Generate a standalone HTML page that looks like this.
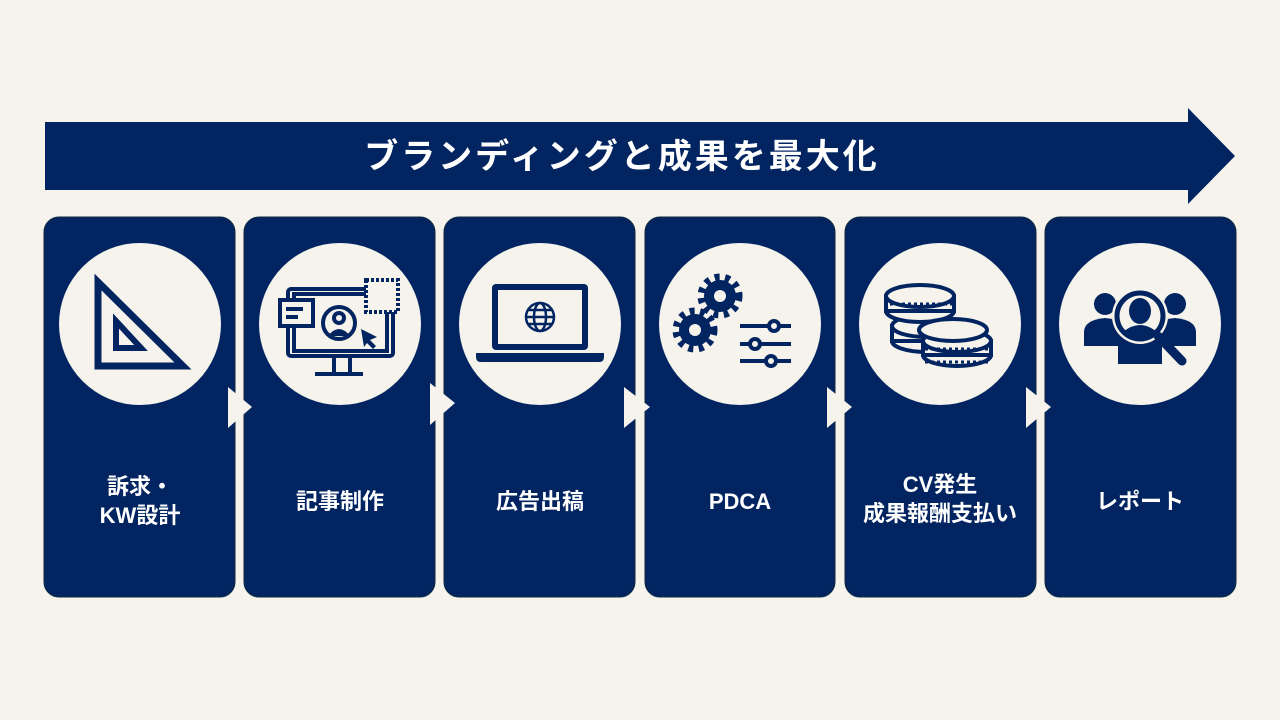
<!DOCTYPE html>
<html><head><meta charset="utf-8"><style>
body{margin:0;background:#f6f3ec;}
svg{display:block;}
text{font-family:"Liberation Sans","Noto Sans CJK JP",sans-serif;font-weight:bold;}
</style></head><body>
<svg width="1280" height="720" viewBox="0 0 1280 720">
<rect width="1280" height="720" fill="#f6f3ec"/>
<polygon points="45,122 1188,122 1188,108 1235,156 1188,204 1188,190 45,190" fill="#022561"/>
<text x="622" y="168" font-size="34" fill="#fff" text-anchor="middle" letter-spacing="3">ブランディングと成果を最大化</text>
<g fill="#022561" stroke="#0d2a40" stroke-width="1">
<rect x="44" y="217" width="191" height="380" rx="15"/>
<rect x="244" y="217" width="191" height="380" rx="15"/>
<rect x="444" y="217" width="191" height="380" rx="15"/>
<rect x="645" y="217" width="190" height="380" rx="15"/>
<rect x="845" y="217" width="191" height="380" rx="15"/>
<rect x="1045" y="217" width="191" height="380" rx="15"/>
</g>
<g fill="#f6f3ec">
<circle cx="140" cy="324" r="81"/><circle cx="340" cy="324" r="81"/><circle cx="540" cy="324" r="81"/>
<circle cx="740" cy="324" r="81"/><circle cx="940" cy="324" r="81"/><circle cx="1140" cy="324" r="81"/>
<polygon points="228,387 252,407 228,428"/><polygon points="430,383 455,403 430,425"/>
<polygon points="624,387 650,407 624,428"/><polygon points="827,387 852,407 827,428"/>
<polygon points="1026,387 1051,407 1026,428"/>
</g>
<g fill="none" stroke="#022561" stroke-width="7">
<polygon points="98,282 98,366 183,366"/>
<polygon points="116,321 116,348 141,348" stroke-width="6"/>
</g>
<g fill="none" stroke="#022561" stroke-width="4">
<rect x="288" y="289" width="105" height="67" rx="3"/>
<rect x="294" y="294" width="93" height="57"/>
<line x1="334" y1="357" x2="334" y2="373"/><line x1="350" y1="357" x2="350" y2="373"/>
<line x1="315" y1="374" x2="363" y2="374"/>
<circle cx="339" cy="323" r="16"/>
<circle cx="339" cy="318" r="5"/>
<rect x="366" y="280" width="32" height="32" stroke-dasharray="3,2" fill="#f6f3ec"/>
<rect x="280" y="300" width="33" height="26" fill="#f6f3ec"/>
<line x1="286" y1="309" x2="303" y2="309"/><line x1="286" y1="317" x2="298" y2="317"/>
</g>
<path d="M328,336 q11,-14 22,0z" fill="#022561"/>
<polygon points="361,329 377,337 370,340 376,346 373,349 367,343 364,347" fill="#022561"/>
<g fill="#022561">
<rect x="492" y="284" width="96" height="66" rx="4"/>
<rect x="498" y="290" width="84" height="54" fill="#f6f3ec"/>
<path d="M476,353 h128 v4 q0,5 -5,5 h-118 q-5,0 -5,-5z"/>
</g>
<g fill="none" stroke="#022561" stroke-width="2.5">
<circle cx="540" cy="317" r="14"/><ellipse cx="540" cy="317" rx="6" ry="14"/>
<line x1="526" y1="317" x2="554" y2="317"/><line x1="528" y1="310" x2="552" y2="310"/><line x1="528" y1="324" x2="552" y2="324"/>
</g>
<g fill="#022561"><circle cx="720" cy="296" r="16"/><circle cx="695" cy="330" r="16"/></g>
<g stroke="#022561" stroke-width="7" stroke-dasharray="5,5.5" fill="none">
<circle cx="720" cy="296" r="19"/><circle cx="695" cy="330" r="19"/>
</g>
<g fill="#f6f3ec"><circle cx="720" cy="296" r="6"/><circle cx="695" cy="330" r="6"/></g>
<g stroke="#022561" stroke-width="4" fill="#f6f3ec">
<line x1="740" y1="326" x2="791" y2="326"/><line x1="740" y1="344" x2="791" y2="344"/><line x1="740" y1="361" x2="791" y2="361"/>
<circle cx="774" cy="326" r="5"/><circle cx="755" cy="344" r="5"/><circle cx="771" cy="361" r="5"/>
</g>
<g stroke="#022561" stroke-width="4" fill="#f6f3ec">
<ellipse cx="926" cy="341" rx="34" ry="11"/>
<rect x="892" y="326" width="68" height="15"/>
<ellipse cx="926" cy="326" rx="34" ry="11"/>
<ellipse cx="920" cy="311" rx="34" ry="11"/>
<rect x="886" y="296" width="68" height="15"/>
<ellipse cx="920" cy="296" rx="34" ry="11"/>
<ellipse cx="957" cy="355" rx="34" ry="11"/>
<rect x="923" y="341" width="68" height="14"/>
<ellipse cx="957" cy="341" rx="34" ry="11"/>
<ellipse cx="953" cy="330" rx="34" ry="11"/>
</g>
<g stroke="#022561" stroke-width="3" stroke-dasharray="3,3">
<line x1="890" y1="304" x2="952" y2="304"/>
<line x1="925" y1="349" x2="989" y2="349"/>
<line x1="925" y1="362" x2="989" y2="362"/>
</g>
<g fill="#022561">
<circle cx="1105" cy="304" r="11"/><circle cx="1175" cy="304" r="11"/>
<path d="M1084,346 v-14 q0,-12 21,-14 q21,2 21,14 v14z"/>
<path d="M1154,346 v-14 q0,-12 21,-14 q21,2 21,14 v14z"/>
<path d="M1118,364 v-18 q0,-14 22,-16 q22,2 22,16 v18z"/>
</g>
<circle cx="1140" cy="316" r="28" fill="#f6f3ec"/>
<circle cx="1140" cy="316" r="23" fill="none" stroke="#022561" stroke-width="5"/>
<ellipse cx="1140" cy="311" rx="11" ry="13" fill="#022561"/>
<path d="M1123,332 q17,-14 34,0 q-17,12 -34,0z" fill="#022561"/>
<line x1="1158" y1="336" x2="1182" y2="361" stroke="#022561" stroke-width="9" stroke-linecap="round"/>
<g font-size="22" fill="#fff" text-anchor="middle">
<text x="140" y="494">訴求・</text><text x="140" y="523">KW設計</text>
<text x="340" y="509">記事制作</text>
<text x="540" y="509">広告出稿</text>
<text x="740" y="509">PDCA</text>
<text x="940" y="492">CV発生</text><text x="940" y="521">成果報酬支払い</text>
<text x="1140" y="509">レポート</text>
</g>
</svg>
</body></html>
